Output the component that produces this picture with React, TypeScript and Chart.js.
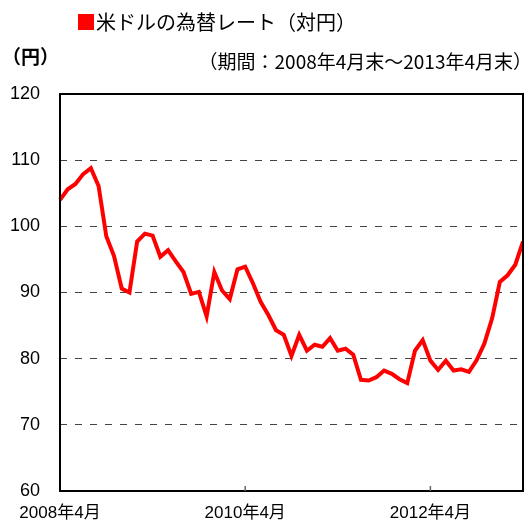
import React, { useEffect, useRef } from "react";
import { Chart, registerables } from "chart.js";

Chart.register(...registerables);

const months: string[] = [
  "2008年4月", "2008年5月", "2008年6月", "2008年7月", "2008年8月", "2008年9月", "2008年10月", "2008年11月", "2008年12月",
  "2009年1月", "2009年2月", "2009年3月", "2009年4月", "2009年5月", "2009年6月", "2009年7月", "2009年8月", "2009年9月", "2009年10月", "2009年11月", "2009年12月",
  "2010年1月", "2010年2月", "2010年3月", "2010年4月", "2010年5月", "2010年6月", "2010年7月", "2010年8月", "2010年9月", "2010年10月", "2010年11月", "2010年12月",
  "2011年1月", "2011年2月", "2011年3月", "2011年4月", "2011年5月", "2011年6月", "2011年7月", "2011年8月", "2011年9月", "2011年10月", "2011年11月", "2011年12月",
  "2012年1月", "2012年2月", "2012年3月", "2012年4月", "2012年5月", "2012年6月", "2012年7月", "2012年8月", "2012年9月", "2012年10月", "2012年11月", "2012年12月",
  "2013年1月", "2013年2月", "2013年3月", "2013年4月",
];

const usdJpy: number[] = [
  104.0, 105.6, 106.4, 107.9, 108.8, 106.1, 98.5, 95.5, 90.6,
  90.0, 97.7, 98.9, 98.6, 95.4, 96.4, 94.7, 93.1, 89.8, 90.1, 86.4, 93.1,
  90.3, 89.0, 93.5, 93.9, 91.4, 88.6, 86.6, 84.3, 83.6, 80.4, 83.6, 81.2,
  82.1, 81.8, 83.1, 81.2, 81.5, 80.6, 76.8, 76.7, 77.2, 78.2, 77.7, 76.9,
  76.3, 81.2, 82.8, 79.7, 78.3, 79.7, 78.2, 78.4, 78.0, 79.8, 82.3, 86.1,
  91.6, 92.6, 94.2, 97.7,
];

const xTickLabels: string[] = ["2008年4月", "2010年4月", "2012年4月"];
const yMin = 60;
const yMax = 120;
const yStep = 10;

const titleText = "米ドルの為替レート（対円）";
const unitText = "（円）";
const periodText = "（期間：2008年4月末～2013年4月末）";

const FONT_LATIN = '"Liberation Sans", "Noto Sans CJK JP", sans-serif';
const FONT_CJK = '"Noto Sans CJK JP", "Liberation Sans", sans-serif';

const decorPlugin = {
  id: "decor",
  afterDraw(chart: any) {
    const { ctx, chartArea } = chart;
    const { left, right, top, bottom } = chartArea;
    ctx.save();
    // frame
    ctx.strokeStyle = "#000";
    ctx.lineWidth = 2;
    ctx.setLineDash([]);
    ctx.strokeRect(left, top, right - left, bottom - top);
    // inward x ticks
    const xs = chart.scales.x;
    ctx.strokeStyle = "#666";
    ctx.lineWidth = 1.5;
    xTickLabels.forEach((lab) => {
      const idx = months.indexOf(lab);
      if (idx <= 0) return;
      const px = xs.getPixelForValue(idx);
      ctx.beginPath();
      ctx.moveTo(px, bottom);
      ctx.lineTo(px, bottom - 5);
      ctx.stroke();
    });
    // title
    ctx.textBaseline = "middle";
    ctx.textAlign = "left";
    ctx.font = "20px " + FONT_CJK;
    ctx.fillStyle = "#ff0000";
    ctx.fillText("■", 76, 22);
    const w = ctx.measureText("■").width;
    ctx.fillStyle = "#000";
    ctx.fillText(titleText, 76 + w, 22);
    // unit
    ctx.font = "bold 19px " + FONT_CJK;
    ctx.fillText(unitText, 2, 57);
    // period
    ctx.font = "19px " + FONT_CJK;
    ctx.textAlign = "right";
    ctx.fillText(periodText, 532, 62);
    ctx.restore();
  },
};

export default function App() {
  const ref = useRef<HTMLCanvasElement | null>(null);
  useEffect(() => {
    if (!ref.current) return;
    const chart = new Chart(ref.current, {
      type: "line",
      data: {
        labels: months,
        datasets: [
          {
            data: usdJpy,
            borderColor: "#ff0000",
            borderWidth: 4,
            pointRadius: 0,
            tension: 0,
            fill: false,
          },
        ],
      },
      options: {
        animation: false,
        responsive: false,
        layout: { padding: { left: 0, right: 1, top: 94, bottom: 0 } },
        plugins: { legend: { display: false }, title: { display: false }, tooltip: { enabled: false } },
        scales: {
          x: {
            type: "category",
            offset: false,
            grid: { display: false, drawTicks: false },
            border: { display: false },
            ticks: {
              autoSkip: false,
              maxRotation: 0,
              minRotation: 0,
              padding: 12,
              color: "#000",
              font: { family: FONT_LATIN, size: 17 },
              callback: (_v: any, i: number) => (xTickLabels.includes(months[i]) ? months[i] : ""),
            },
            afterFit: (s: any) => {
              s.height = 35;
              s.paddingLeft = 0;
              s.paddingRight = 0;
            },
          },
          y: {
            min: yMin,
            max: yMax,
            ticks: {
              stepSize: yStep,
              padding: 20,
              color: "#000",
              font: { family: FONT_LATIN, size: 18 },
            },
            grid: {
              drawTicks: false,
              lineWidth: 1,
              color: (c: any) =>
                c.tick && (c.tick.value === yMin || c.tick.value === yMax) ? "rgba(0,0,0,0)" : "#444",
            },
            border: { display: false, dash: [7, 8] },
            afterFit: (s: any) => {
              s.width = 60;
              s.paddingTop = 0;
              s.paddingBottom = 0;
            },
          },
        },
      },
      plugins: [decorPlugin],
    });
    return () => chart.destroy();
  }, []);
  return (
    <div style={{ position: "absolute", left: 0, top: 0, width: 524, height: 526, background: "#fff" }}>
      <canvas ref={ref} width={524} height={526} />
    </div>
  );
}
